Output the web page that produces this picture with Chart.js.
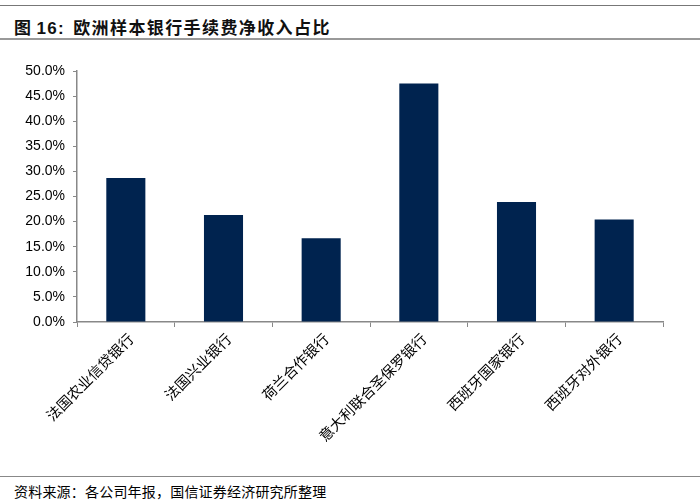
<!DOCTYPE html>
<html>
<head>
<meta charset="utf-8">
<script src="https://cdn.jsdelivr.net/npm/chart.js@4"></script>
<style>
    body { margin: 0; background: #fff; width: 700px; height: 502px; position: relative; overflow: hidden; }
    .line-top { position: absolute; left: 0; top: 5px; width: 700px; height: 1px; background: #777; }
    .title { position: absolute; left: 14px; top: 14px; font: bold 17px "Noto Sans CJK SC", sans-serif; color: #111; letter-spacing: 1.4px; }
    .title b { font-family: "Liberation Sans", Arial, sans-serif; margin: 0 8px 0 4px; }
    .line-title { position: absolute; left: 0; top: 38px; width: 700px; height: 2px; background: #999; }
    .line-foot { position: absolute; left: 0; top: 476px; width: 700px; height: 1px; background: #888; }
    .foot { position: absolute; left: 14px; top: 481px; font: 14px "Noto Sans CJK SC", serif; color: #000; letter-spacing: 0.2px; }
    #box { position: absolute; left: 0; top: 45px; width: 700px; height: 420px; }
</style>
</head>
<body>
<div class="line-top"></div>
<div class="title">图<b>16:</b>欧洲样本银行手续费净收入占比</div>
<div class="line-title"></div>
<div id="box"><canvas id="graph"></canvas></div>
<div class="line-foot"></div>
<div class="foot">资料来源：各公司年报，国信证券经济研究所整理</div>
<script>
const categories = ['法国农业信贷银行', '法国兴业银行', '荷兰合作银行', '意大利联合圣保罗银行', '西班牙国家银行', '西班牙对外银行'];
const values = [28.7, 21.3, 16.7, 47.5, 23.9, 20.4];
const yMin = 0;
const yMax = 50;
const yStep = 5;

let ctx = document.getElementById('graph').getContext('2d');

const data = {
    labels: categories,
    datasets: [
        {
            label: '手续费净收入占比',
            data: values,
            backgroundColor: '#00234f',
            barPercentage: 0.4,
            categoryPercentage: 1.0
        }
    ]
};

const config = {
    type: 'bar',
    data: data,
    options: {
        responsive: true,
        maintainAspectRatio: false,
        animation: false,
        layout: {
            padding: { top: 26, right: 37, left: 0, bottom: 0 }
        },
        plugins: {
            legend: { display: false },
            title: { display: false },
            tooltip: { enabled: false }
        },
        scales: {
            x: {
                grid: { drawOnChartArea: false, drawTicks: true, tickLength: 5, color: '#888', offset: true },
                border: { color: '#888', width: 1.5 },
                ticks: {
                    color: '#000',
                    font: { family: '"Noto Sans CJK SC", serif', size: 14.5 },
                    maxRotation: 45,
                    minRotation: 45,
                    labelOffset: 5,
                    padding: 3
                },
                afterFit: function (scale) { scale.height = 143; }
            },
            y: {
                min: yMin,
                max: yMax,
                grid: { drawOnChartArea: false, drawTicks: true, tickLength: 4, color: '#888' },
                border: { color: '#888', width: 1.5 },
                ticks: {
                    stepSize: yStep,
                    color: '#000',
                    padding: 8,
                    font: { family: '"Liberation Sans", Arial, sans-serif', size: 14 },
                    callback: function (v) { return v.toFixed(1) + '%'; }
                },
                afterFit: function (scale) { scale.width = 77; }
            }
        }
    }
};

let graph1 = new Chart(ctx, config);
</script>
</body>
</html>
